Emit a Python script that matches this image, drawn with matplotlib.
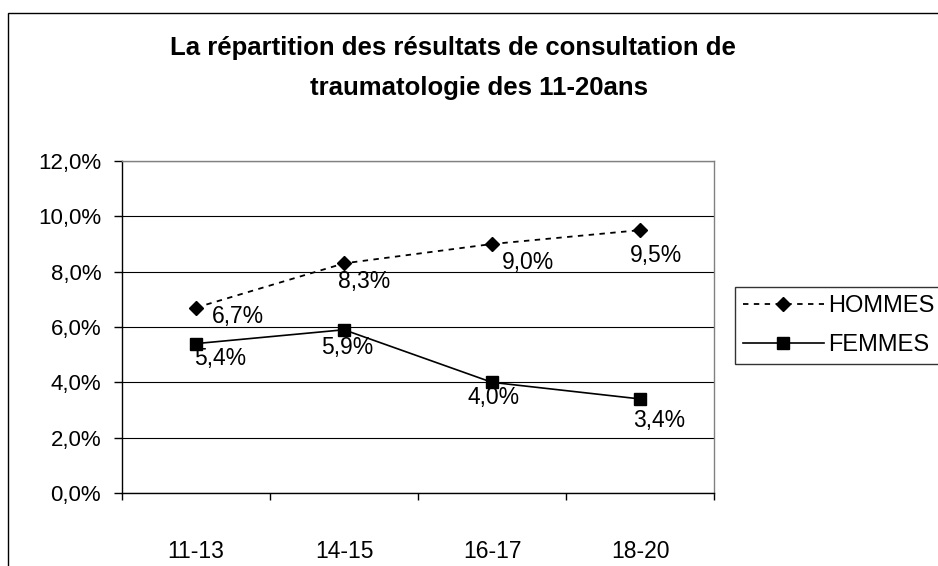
import matplotlib.pyplot as plt
from matplotlib.patches import Rectangle

plt.rcParams['font.family'] = ['Liberation Sans', 'DejaVu Sans']

categories = ["11-13", "14-15", "16-17", "18-20"]
hommes = [6.7, 8.3, 9.0, 9.5]
femmes = [5.4, 5.9, 4.0, 3.4]
y_ticks = [0, 2, 4, 6, 8, 10, 12]

# where Excel put each data label, in pixels from the point (dx, dy down)
off_h = [(42, 9), (20, 18), (36, 18), (16, 25)]
off_f = [(24, 15), (3, 18), (2, 15), (19, 22)]


def pct(v):
    return ("%.1f%%" % v).replace(".", ",")


fig = plt.figure(figsize=(9.38, 5.66), dpi=100)
ax = fig.add_axes([122 / 938, 73 / 566, 592 / 938, 332 / 566])

# outer chart frame (only top and left visible in the crop)
fig.patches.append(Rectangle((8 / 938, -0.2), 1.2, 1.2 - 13 / 566,
                             transform=fig.transFigure, fill=False,
                             edgecolor='black', linewidth=1.0))

x = [i + 0.5 for i in range(len(categories))]
ax.plot(x, hommes, color='black', linestyle=(0, (3, 3)), linewidth=1.3,
        marker='D', markersize=7, label='HOMMES')
ax.plot(x, femmes, color='black', linestyle='-', linewidth=1.2,
        marker='s', markersize=8.5, label='FEMMES')

for xi, v, (dx, dy) in zip(x, hommes, off_h):
    ax.annotate(pct(v), (xi, v), xytext=(dx, -dy), textcoords='offset pixels',
                ha='center', va='center', fontsize=16.5)
for xi, v, (dx, dy) in zip(x, femmes, off_f):
    ax.annotate(pct(v), (xi, v), xytext=(dx, -dy), textcoords='offset pixels',
                ha='center', va='center', fontsize=16.5)

ax.set_xlim(0, len(categories))
ax.set_ylim(0, 12)
ax.set_yticks(y_ticks)
ax.set_yticklabels([pct(t) for t in y_ticks], fontsize=16)
ax.set_xticks(x)
ax.set_xticklabels(categories, fontsize=16.5)
ax.set_xticks(range(len(categories) + 1), minor=True)
ax.tick_params(axis='x', which='major', length=0, pad=34)
ax.tick_params(axis='x', which='minor', length=5, width=1, direction='out')
ax.tick_params(axis='y', length=6, width=1, direction='out', pad=9)

ax.grid(True, axis='y', color='black', linewidth=0.8)
ax.set_axisbelow(True)
ax.spines['left'].set_color('black')
ax.spines['bottom'].set_color('black')
ax.spines['top'].set_color('#808080')
ax.spines['right'].set_color('#808080')
for s in ax.spines.values():
    s.set_linewidth(1.0)

fig.text(453 / 938, 1 - 48 / 566, "La répartition des résultats de consultation de",
         ha='center', va='center', fontsize=18.5, fontweight='bold')
fig.text(479 / 938, 1 - 88 / 566, "traumatologie des 11-20ans",
         ha='center', va='center', fontsize=18.5, fontweight='bold')

leg = ax.legend(loc='upper left', bbox_to_anchor=(735 / 938, 1 - 287 / 566),
                bbox_transform=fig.transFigure, fontsize=17, frameon=True,
                fancybox=False, edgecolor='black', handlelength=3.4,
                handletextpad=0.2, labelspacing=0.7, borderpad=0.35,
                borderaxespad=0)
leg.get_frame().set_linewidth(1.0)

fig.savefig("out.png", dpi=100)
